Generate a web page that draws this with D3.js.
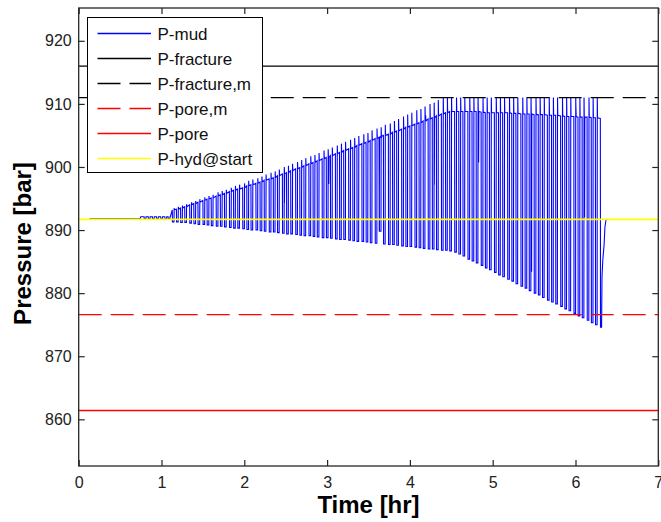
<!DOCTYPE html>
<html>
<head>
<meta charset="utf-8">
<script src="https://cdn.jsdelivr.net/npm/d3@7"></script>
<style>
body { margin: 0; background: #fff; }
svg { display: block; font-family: "Liberation Sans", Arial, sans-serif; }
</style>
</head>
<body>
<svg id="chart" width="661" height="522"></svg>
<script>
// P-mud: flat start, then one spike per connection (drill -> low -> peak -> drill)
const startTime = [0.13, 0.74, 0.75];
const startValue = [891.8, 891.8, 892.1];

const spikeTime = [0.79, 0.84, 0.89, 0.94, 0.99, 1.04, 1.08, 1.13,
  1.18, 1.23, 1.28, 1.34, 1.39, 1.44, 1.50, 1.55, 1.60, 1.66,
  1.71, 1.76, 1.82, 1.87, 1.92, 1.98, 2.03, 2.08, 2.14, 2.19,
  2.24, 2.30, 2.35, 2.40, 2.46, 2.51, 2.56, 2.62, 2.67, 2.72,
  2.78, 2.83, 2.88, 2.94, 2.99, 3.04, 3.10, 3.15, 3.20, 3.26,
  3.31, 3.36, 3.42, 3.47, 3.52, 3.58, 3.63, 3.68, 3.74, 3.79,
  3.84, 3.90, 3.95, 4.00, 4.06, 4.11, 4.16, 4.22, 4.27, 4.32,
  4.38, 4.43, 4.48, 4.54, 4.59, 4.64, 4.70, 4.75, 4.80, 4.86,
  4.91, 4.96, 5.02, 5.07, 5.12, 5.18, 5.23, 5.28, 5.34, 5.39,
  5.44, 5.50, 5.55, 5.60, 5.66, 5.71, 5.76, 5.82, 5.87, 5.92,
  5.98, 6.03, 6.08, 6.14, 6.19, 6.24];

const spikeDrill = [892.1, 892.1, 892.1, 892.1, 892.1, 892.1, 892.1, 893.2,
  893.3, 893.5, 893.7, 894.0, 894.2, 894.4, 894.7, 894.9, 895.1, 895.4,
  895.6, 895.8, 896.1, 896.3, 896.5, 896.7, 897.0, 897.2, 897.4, 897.6,
  897.9, 898.1, 898.3, 898.6, 898.9, 899.1, 899.4, 899.7, 899.9, 900.2,
  900.5, 900.7, 901.0, 901.3, 901.5, 901.8, 902.1, 902.3, 902.6, 902.9,
  903.1, 903.4, 903.7, 903.9, 904.2, 904.5, 904.7, 905.0, 905.2, 905.5,
  905.7, 906.0, 906.3, 906.5, 906.8, 907.0, 907.3, 907.6, 907.8, 908.1,
  908.4, 908.6, 908.8, 908.8, 908.8, 908.8, 908.8, 908.8, 908.8, 908.7,
  908.6, 908.6, 908.6, 908.6, 908.6, 908.6, 908.5, 908.5, 908.4, 908.4,
  908.4, 908.3, 908.3, 908.3, 908.2, 908.2, 908.2, 908.1, 908.0, 908.0,
  908.0, 907.9, 907.9, 907.9, 907.8, 907.8];

const spikeLow = [891.8, 891.8, 891.8, 891.8, 891.8, 891.8, 891.8, 891.3,
  891.3, 891.2, 891.2, 891.1, 891.0, 890.9, 890.9, 890.8, 890.7, 890.6,
  890.6, 890.5, 890.4, 890.3, 890.3, 890.2, 890.1, 890.0, 890.0, 889.9,
  889.8, 889.7, 889.7, 889.6, 889.5, 889.4, 889.4, 889.3, 889.2, 889.1,
  889.1, 889.0, 888.9, 888.8, 888.8, 888.7, 888.6, 888.5, 888.5, 888.4,
  888.3, 888.2, 888.2, 888.1, 888.0, 887.9, 889.8, 887.8, 887.7, 887.7,
  887.6, 887.5, 887.4, 887.4, 887.3, 887.2, 887.1, 887.0, 887.0, 886.9,
  886.8, 886.8, 886.7, 886.5, 886.2, 885.9, 885.4, 885.1, 884.8, 884.4,
  884.0, 883.7, 883.3, 882.9, 882.6, 882.2, 881.9, 881.5, 881.1, 880.8,
  880.4, 880.0, 879.7, 879.3, 878.9, 878.6, 878.3, 877.9, 877.5, 877.2,
  876.8, 876.4, 876.1, 875.7, 875.3, 875.0];

const spikePeak = [892.1, 892.1, 892.1, 892.1, 892.1, 892.1, 892.1, 893.5,
  893.7, 893.9, 894.1, 894.4, 894.6, 894.9, 895.2, 895.4, 895.6, 896.0,
  896.2, 896.4, 896.7, 897.0, 897.2, 897.4, 897.8, 898.0, 898.2, 898.5,
  898.8, 899.1, 899.3, 899.6, 900.0, 900.2, 900.5, 900.8, 901.1, 901.4,
  901.7, 901.9, 902.2, 902.6, 902.8, 903.1, 903.4, 903.7, 904.0, 904.3,
  904.6, 904.9, 905.2, 905.4, 905.8, 906.1, 906.3, 906.7, 906.9, 907.3,
  907.6, 908.0, 908.3, 908.6, 909.0, 909.2, 909.6, 910.0, 910.2, 910.6,
  911.0, 911.0, 911.0, 911.0, 911.0, 911.0, 911.0, 911.0, 911.0, 911.0,
  911.0, 911.0, 911.0, 911.0, 911.0, 911.0, 911.0, 911.0, 911.0, 911.0,
  911.0, 911.0, 911.0, 911.0, 911.0, 911.0, 911.0, 911.0, 911.0, 911.0,
  911.0, 911.0, 911.0, 911.0, 911.0, 911.0];

// short irregular dips / blips between connections
const dipTime = [2.485, 3.02, 3.63, 4.19, 4.295, 4.83, 5.47, 6.005, 6.11];
const dipValue = [894.3, 897.3, 889.8, 908.2, 897.2, 900.7, 883.4, 909.6, 892.0];

// last drop and pressure recovery
const endTime = [6.30, 6.302, 6.315, 6.32, 6.33, 6.345, 6.355, 6.37];
const endValue = [907.7, 874.6, 874.6, 882.6, 885.3, 887.6, 890.4, 891.8];

// constant reference lines
const refNames = ["P-fracture", "P-fracture,m", "P-pore,m", "P-pore", "P-hyd@start"];
const refValues = [916.0, 911.0, 876.6, 861.4, 891.7];

const xTicks = [0, 1, 2, 3, 4, 5, 6, 7];
const yTicks = [860, 870, 880, 890, 900, 910, 920];

// styles
const refStyle = {
  "P-fracture": { color: "#000000", dash: null },
  "P-fracture,m": { color: "#000000", dash: "23,9" },
  "P-pore,m": { color: "#ff0000", dash: "23,9" },
  "P-pore": { color: "#ff0000", dash: null },
  "P-hyd@start": { color: "#ffff00", dash: null }
};

const svg = d3.select("#chart");
svg.append("rect").attr("width", 661).attr("height", 522).attr("fill", "#fff");

const x = d3.scaleLinear().domain([0, 7]).range([78.7, 658.3]);
const y = d3.scaleLinear().domain([852.6, 925.2]).range([466, 8]);

const plotW = x.range()[1] - x.range()[0];
const plotH = y.range()[0] - y.range()[1];

svg.append("clipPath").attr("id", "clip")
  .append("rect")
  .attr("x", x.range()[0]).attr("y", y.range()[1])
  .attr("width", plotW).attr("height", plotH);

const plot = svg.append("g").attr("clip-path", "url(#clip)");

// build the P-mud polyline, each connection drawn as a narrow U
const mud = [];
startTime.forEach((t, i) => mud.push([t, startValue[i]]));
const events = [];
spikeTime.forEach((t, i) => events.push({ t: t, type: "spike", i: i }));
dipTime.forEach((t, i) => events.push({ t: t, type: "dip", i: i }));
events.sort((a, b) => a.t - b.t);
let cur = startValue[startValue.length - 1];
events.forEach(e => {
  if (e.type === "spike") {
    const i = e.i;
    mud.push([e.t, spikeDrill[i]]);
    mud.push([e.t + 0.002, spikeLow[i]]);
    mud.push([e.t + 0.021, spikeLow[i]]);
    mud.push([e.t + 0.023, spikePeak[i]]);
    mud.push([e.t + 0.026, spikeDrill[i]]);
    cur = spikeDrill[i];
  } else {
    mud.push([e.t - 0.003, cur]);
    mud.push([e.t, dipValue[e.i]]);
    mud.push([e.t + 0.003, cur]);
  }
});
endTime.forEach((t, i) => mud.push([t, endValue[i]]));

const line = d3.line().x(d => x(d[0])).y(d => y(d[1]));

plot.append("path")
  .datum(mud)
  .attr("d", line)
  .attr("fill", "none")
  .attr("stroke", "#0000ff")
  .attr("stroke-width", 1.1);

// reference lines
plot.selectAll(".ref")
  .data(refNames)
  .enter()
  .append("line")
  .attr("class", "ref")
  .attr("x1", x(0))
  .attr("x2", x(7))
  .attr("y1", (d, i) => y(refValues[i]))
  .attr("y2", (d, i) => y(refValues[i]))
  .attr("stroke", d => refStyle[d].color)
  .attr("stroke-width", d => d === "P-hyd@start" ? 1.6 : 1.3)
  .attr("stroke-dasharray", d => refStyle[d].dash);

// axes, ticks pointing inward on all four sides
const axisColor = "#262626";
const gB = svg.append("g").attr("transform", `translate(0,${y.range()[0]})`)
  .call(d3.axisBottom(x).tickValues(xTicks).tickSizeInner(-6).tickSizeOuter(0)
    .tickPadding(10.5).tickFormat(d3.format("d")));
const gT = svg.append("g").attr("transform", `translate(0,${y.range()[1]})`)
  .call(d3.axisTop(x).tickValues(xTicks).tickSizeInner(-6).tickSizeOuter(0).tickFormat(""));
const gL = svg.append("g").attr("transform", `translate(${x.range()[0]},0)`)
  .call(d3.axisLeft(y).tickValues(yTicks).tickSizeInner(-6).tickSizeOuter(0)
    .tickPadding(7).tickFormat(d3.format("d")));
const gR = svg.append("g").attr("transform", `translate(${x.range()[1]},0)`)
  .call(d3.axisRight(y).tickValues(yTicks).tickSizeInner(-6).tickSizeOuter(0).tickFormat(""));

[gB, gT, gL, gR].forEach(g => {
  g.select(".domain").remove();
  g.selectAll("line").attr("stroke", axisColor).attr("stroke-width", 1.2);
  g.selectAll("text")
    .attr("fill", "#222")
    .style("font-family", "'Liberation Sans', Arial, sans-serif")
    .style("font-size", "16px");
});

svg.append("rect")
  .attr("x", x.range()[0]).attr("y", y.range()[1])
  .attr("width", plotW).attr("height", plotH)
  .attr("fill", "none")
  .attr("stroke", axisColor)
  .attr("stroke-width", 1.3);

// axis titles
svg.append("text")
  .attr("x", (x.range()[0] + x.range()[1]) / 2)
  .attr("y", 513)
  .attr("text-anchor", "middle")
  .style("font-size", "24px")
  .style("font-weight", "bold")
  .text("Time [hr]");

svg.append("text")
  .attr("transform", `translate(30.5, 243.5) rotate(-90)`)
  .attr("text-anchor", "middle")
  .style("font-size", "24px")
  .style("font-weight", "bold")
  .text("Pressure [bar]");

// legend
const legendNames = ["P-mud"].concat(refNames);
const legend = svg.append("g").attr("transform", "translate(87.5,17.5)");
legend.append("rect")
  .attr("width", 175).attr("height", 155)
  .attr("fill", "#fff")
  .attr("stroke", "#000")
  .attr("stroke-width", 1);

const rows = legend.selectAll(".row")
  .data(legendNames)
  .enter()
  .append("g")
  .attr("class", "row")
  .attr("transform", (d, i) => `translate(0, ${16 + i * 25})`);

rows.append("line")
  .attr("x1", 10).attr("x2", 63.5)
  .attr("stroke", d => d === "P-mud" ? "#0000ff" : refStyle[d].color)
  .attr("stroke-width", d => d === "P-hyd@start" ? 1.6 : 1.3)
  .attr("stroke-dasharray", d => d === "P-mud" ? null : refStyle[d].dash);

rows.append("text")
  .attr("x", 70)
  .attr("y", 6)
  .style("font-size", "17px")
  .attr("fill", "#111")
  .text(d => d);
</script>
</body>
</html>
